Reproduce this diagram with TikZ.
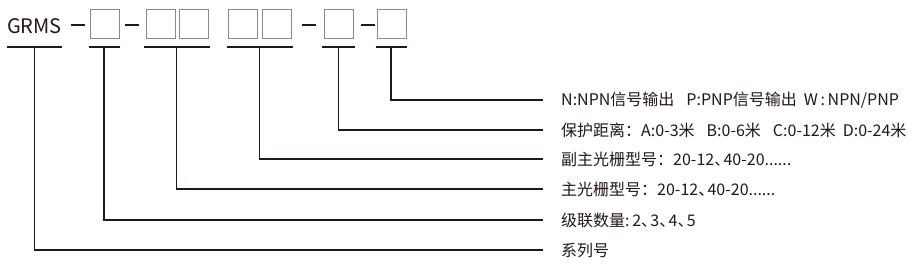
\documentclass[tikz,border=0pt]{standalone}
\usepackage{fontspec}
\newfontfamily\cjk{Noto Sans CJK SC}
\usetikzlibrary{positioning}
\definecolor{ink}{HTML}{231815}
\definecolor{boxgray}{HTML}{8A8A8A}
\newcommand\dun{、\hspace{-0.42em}}

\begin{document}
\begin{tikzpicture}[x=1pt, y=-1pt,
  cell/.style={draw=boxgray, line width=1pt, minimum size=29pt, inner sep=0pt},
  sep/.style={fill=ink, minimum width=14pt, minimum height=1.5pt, inner sep=0pt},
  lead/.style={draw=ink, line width=1.4pt},
  lbl/.style={anchor=west, inner sep=0pt, text=ink,
    font=\cjk\fontsize{16}{19}\selectfont}]
\useasboundingbox (0,0) rectangle (920,278);
% code: GRMS-X-XX XX-X-X
\node[anchor=west, inner sep=0pt, text=ink, font=\cjk\fontsize{20}{24}\selectfont]
  (g) at (7,26) {GRMS};
\node[sep] (s1) at (78,25) {};
\node[cell] (b1) at (104.5,24.5) {};
\node[sep] (s2) at (132,25) {};
\node[cell] (b2) at (160.5,24.5) {};
\node[cell] (b3) at (193.5,24.5) {};
\node[cell] (b4) at (242.5,24.5) {};
\node[cell] (b5) at (276.5,24.5) {};
\node[sep] (s3) at (308.5,25) {};
\node[cell] (b6) at (339,24.5) {};
\node[sep] (s4) at (367.5,25) {};
\node[cell] (b7) at (391.5,24.5) {};
% legend texts
\node[lbl] (t1) at (561,100) {N:NPN信号输出\hspace{12pt}P:PNP信号输出\hspace{7pt}W\,:\,NPN/PNP};
\node[lbl] (t2) at (561,130) {保护距离：A:0-3米\hspace{12pt}B:0-6米\hspace{12pt}C:0-12米\hspace{7pt}D:0-24米};
\node[lbl] (t3) at (561,159) {副主光栅型号：20-12\dun 40-20......};
\node[lbl] (t4) at (561,189) {主光栅型号：20-12\dun 40-20......};
\node[lbl] (t5) at (561,220) {级联数量:\,2\dun 3\dun 4\dun 5};
\node[lbl] (t6) at (561,250) {系列号};
% underlines
\draw[lead] (g.west|-0,47) -- (g.east|-0,47) coordinate[midway] (u6);
\draw[lead] ([xshift=-1pt]b1.west|-0,47) -- (b1.east|-0,47) coordinate[midway] (u5);
\draw[lead] ([xshift=-2pt]b2.west|-0,47) -- ([xshift=1pt]b3.east|-0,47) coordinate[midway] (u4);
\draw[lead] ([xshift=-1pt]b4.west|-0,47) -- ([xshift=1pt]b5.east|-0,47) coordinate[midway] (u3);
\draw[lead] ([xshift=-2pt]b6.west|-0,47) -- ([xshift=1pt]b6.east|-0,47) coordinate[midway] (u2);
\draw[lead] ([xshift=-1pt]b7.west|-0,47) -- (b7.east|-0,47) coordinate[midway] (u1);
% leaders
\draw[lead] (u1) |- ([xshift=-18pt]t1.west);
\draw[lead] (u2) |- ([xshift=-18pt]t2.west);
\draw[lead] (u3) |- ([xshift=-18pt]t3.west);
\draw[lead] (u4) |- ([xshift=-18pt]t4.west);
\draw[lead] (u5) |- ([xshift=-18pt]t5.west);
\draw[lead] (u6) |- ([xshift=-18pt]t6.west);
\end{tikzpicture}
\end{document}
